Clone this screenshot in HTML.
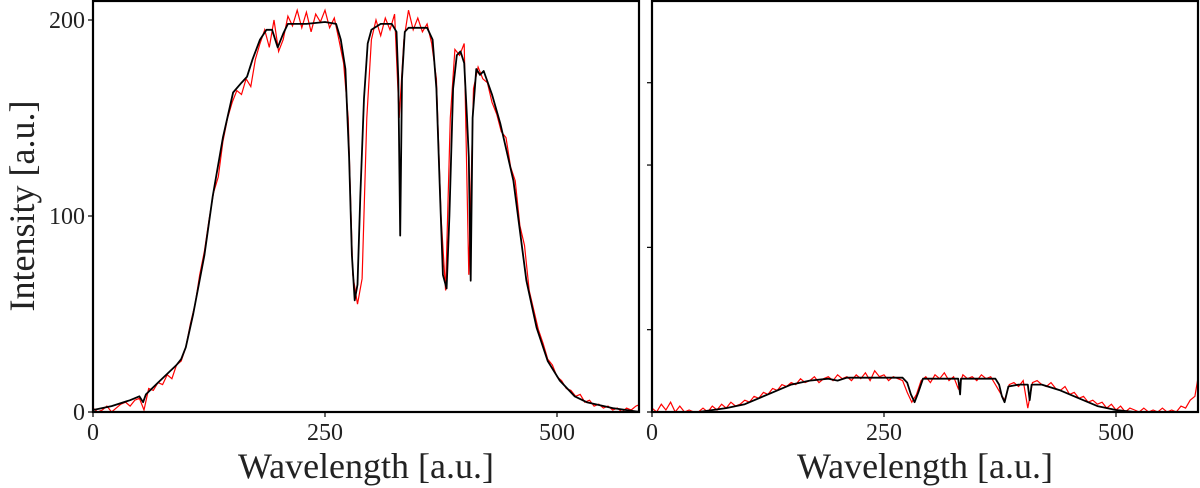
<!DOCTYPE html>
<html><head><meta charset="utf-8"><style>
html,body{margin:0;padding:0;background:#fff;}
svg{display:block;font-family:"Liberation Serif",serif;}
</style></head><body>
<svg id="c" width="1200" height="488" viewBox="0 0 1200 488"></svg>
<script>
const xTicks=[0,250,500];
const xTickLabels=["0","250","500"];
const yTicksLeft=[0,100,200];
const yTickLabelsLeft=["0","100","200"];
const yTicksRight=[0,42,84,126,168];
const redStep=5;
const leftFitX=[0,20,40,50,54,57,70,90,95,100,108,120,129,140,151,160,166,172,180,187,193,199,205,210,230,250,262,267,272,276,279,282,285,288,292,296,300,310,322,327,329,331,333,336,340,360,366,370,374,377,381,384,388,392,396,400,403,405,407,409,413,417,421,430,439,453,467,478,490,503,519,532,560,590];
const leftFitY=[1,3,6,8,5,9,15,24,27,33,50,80,110,140,163,168,171,180,190,195,195,186,193,198,198,199,198,190,175,130,80,57,65,110,160,188,195,198,198,194,170,90,170,194,196,196,190,165,110,70,63,100,165,182,184,178,150,130,67,150,175,172,174,162,147,118,67,43,26,16,8,5,2,0];
const rightFitX=[0,50,80,100,130,150,170,190,200,210,270,275,279,283,287,292,330,331,332,333,370,374,377,380,384,395,405,407,409,420,440,460,480,500,520,590];
const rightFitY=[0,0,2,4,10,14,16,17,16,17.5,17.5,15,9,5,10,17,17,13,9,17,17,14,8,5,13,14,14,6,14,14,11,7,3,1,0,0];
const leftRed=[2,0,1,3,0,2,4,5,3,6,7,1,12,11,15,14,19,17,24,26,33,45,55,70,82,98,112,120,138,150,158,164,162,170,166,180,188,195,186,200,184,190,202,197,205,196,204,194,203,199,205,196,201,190,178,150,70,55,68,150,190,200,192,201,195,203,150,190,205,195,201,194,198,188,170,100,62,150,185,182,188,70,165,176,170,168,158,152,143,140,125,118,95,85,62,52,42,35,27,24,18,16,12,11,8,9,5,6,3,4,2,3,1,2,0,2,1,3,4];
const rightRed=[2,0,4,1,5,0,3,0,1,0,0,2,0,3,1,4,2,5,3,4,6,5,8,7,10,9,12,11,14,13,15,14,17,15,16,18,15,17,18,16,19,17,18,16,19,17,20,16,21,18,19,16,18,17,16,10,5,9,16,18,15,19,17,20,16,18,12,19,17,18,16,19,17,18,14,10,6,14,15,13,16,2,15,16,14,13,15,12,11,13,9,10,7,8,5,6,4,5,2,4,1,3,0,2,1,0,2,0,1,0,2,0,1,0,3,2,6,8,22];

const NS="http://www.w3.org/2000/svg";
const svg=document.getElementById('c');
const Y0=412,YS=1.96,XS=0.928;
function yPix(v){return Y0-v*YS;}
function mk(tag,attrs,parent){const e=document.createElementNS(NS,tag);for(const k in attrs)e.setAttribute(k,attrs[k]);(parent||svg).appendChild(e);return e;}

function panel(x0,name,fitX,fitY,red,yTicks,yLabels){
  const xPix=v=>x0+v*XS;
  const g=mk('g',{});
  
  
  const clipId=name+'-clip';
  const cp=mk('clipPath',{id:clipId},g);
  mk('rect',{x:x0,y:1,width:546,height:411},cp);
  let d='';
  red.forEach((v,i)=>{d+=(i?'L':'M')+xPix(i*redStep).toFixed(1)+' '+yPix(v).toFixed(1);});
  const r=mk('path',{d:d,fill:'none',stroke:'#ff0000','stroke-width':1.2,'clip-path':'url(#'+clipId+')'},g);
  
  
  let d2='';
  fitX.forEach((x,i)=>{d2+=(i?'L':'M')+xPix(x).toFixed(1)+' '+yPix(fitY[i]).toFixed(1);});
  const b=mk('path',{d:d2,fill:'none',stroke:'#000','stroke-width':1.8,'stroke-linejoin':'round','clip-path':'url(#'+clipId+')'},g);
  
  
  const fr=mk('rect',{x:x0,y:1,width:546,height:411,fill:'none',stroke:'#000','stroke-width':2.2},g);
  
  
  xTicks.forEach((t,i)=>{
    mk('line',{x1:xPix(t),x2:xPix(t),y1:412,y2:417,stroke:'#000','stroke-width':1.2},g);
    const tx=mk('text',{x:xPix(t),y:440,'font-size':24,'text-anchor':'middle',fill:'#222'},g);
    tx.textContent=xTickLabels[i];
    
    
  });
  yTicks.forEach((t,i)=>{
    mk('line',{x1:x0-5,x2:x0,y1:yPix(t),y2:yPix(t),stroke:'#000','stroke-width':1.2},g);
    if(yLabels){
      const ty=mk('text',{x:x0-8,y:yPix(t)+8,'font-size':24,'text-anchor':'end',fill:'#222'},g);
      ty.textContent=yLabels[i];
      
      
    }
  });
  const xl=mk('text',{x:x0+273,y:478,'font-size':36,'text-anchor':'middle',fill:'#222'},g);
  xl.textContent='Wavelength [a.u.]';
  
  
}
panel(93,'left',leftFitX,leftFitY,leftRed,yTicksLeft,yTickLabelsLeft);
panel(652,'right',rightFitX,rightFitY,rightRed,yTicksRight,null);
const yl=mk('text',{x:0,y:0,'font-size':36,'text-anchor':'middle',fill:'#222',transform:'translate(34,206) rotate(-90)'});
yl.textContent='Intensity [a.u.]';


</script>
</body></html>
